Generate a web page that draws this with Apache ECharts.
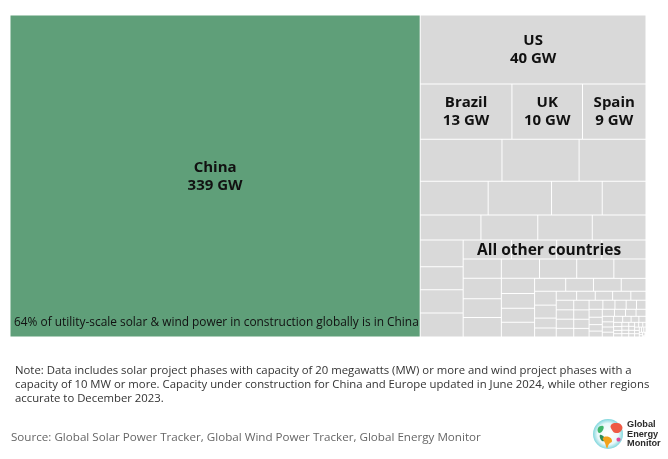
<!DOCTYPE html>
<html><head><meta charset="utf-8">
<style>html,body{margin:0;padding:0;background:#fff}#c{width:668px;height:459px}</style>
<script src="https://cdn.jsdelivr.net/npm/echarts@6/dist/echarts.min.js"></script>
</head><body><div id="c"></div>
<script>
const chinaCell = [339];
const usCell = [40];
const brazilUkSpain = [13,10,9];
const rowA = [8.8,8.3,7.2];
const rowB = [5.9,5.5,4.4,3.8];
const rowC = [3.9,3.65,3.5,3.45];
const colD = [2.95,2.55,2.55,2.65];
const rowE = [2.35,2.2,2.2,2.15];
const rowF = [1.9,1.9,1.85,1.85,1.6];
const colG = [2.0,1.85,1.9];
const colH = [1.3,1.25,1.2,1.25];
const rowI = [1.03,.92,.92,.82];
const colJ = [.77,.72,.55,.5];
const rowK = [.47,.43,.4,.42,.35];
const colL = [.43,.42,.41,.39];
const colM = [.38,.37,.36,.34];
const rowN = [.32,.28,.26,.24,.22];
const colO = [.27,.25,.22,.2];
const rowP = [.22,.2,.19,.18];
const colQ = [.16,.15,.15,.14];
const rowR = [.14,.13,.12,.11];
const colS = [.09,.08,.07,.07];
const tail = [.07,.07,.06,.06,.06,.06,.05,.05,.05,.05,.04,.04,.04,.04,.03,.03,.03,.02,.02,.02,.01,.01];

const headline = '64% of utility-scale solar & wind power in construction globally is in China';
const othersLabel = 'All other countries';
const noteLines = [
 'Note: Data includes solar project phases with capacity of 20 megawatts (MW) or more and wind project phases with a',
 'capacity of 10 MW or more. Capacity under construction for China and Europe updated in June 2024, while other regions',
 'accurate to December 2023.'
];
const sourceText = 'Source: Global Solar Power Tracker, Global Wind Power Tracker, Global Energy Monitor';
const logoLines = ['Global','Energy','Monitor'];

const FONT = '"Open Sans", sans-serif';
const strips = [
  ['left',chinaCell,['China']],['top',usCell,['US']],['top',brazilUkSpain,['Brazil','UK','Spain']],
  ['top',rowA],['top',rowB],['top',rowC],['left',colD],['top',rowE],['top',rowF],
  ['left',colG],['left',colH],['top',rowI],['left',colJ],['top',rowK],['left',colL],['left',colM],
  ['top',rowN],['left',colO],['top',rowP],['left',colQ],['top',rowR],['left',colS],['rest',tail]
];
const sum = a => a.reduce((s,v)=>s+v,0);
let remaining = sum(strips.map(s=>sum(s[1])));
let box = {x:10,y:15,w:636,h:322};
const series = [];
const addSeries = (r,values,names,ratio)=>series.push({
  type:'treemap', left:r.x+.5, top:r.y+.5, width:r.w-1, height:r.h-1,
  roam:false, nodeClick:false, breadcrumb:{show:false},
  visibleMin:0, sort:false, silent:true, squareRatio:ratio,
  levels:[{itemStyle:{gapWidth:1,borderWidth:0,borderColor:'#fff'}}],
  label:{show:!!names,position:'inside',align:'center',verticalAlign:'middle',offset:[0,.5],
    fontFamily:FONT,fontWeight:700,fontSize:15,lineHeight:18,color:'#111',
    formatter:p=>p.name+'\n'+p.value+' GW'},
  data:values.map((v,i)=>({
    name:names?names[i]:'Other', value:v,
    itemStyle:{color:names&&names[i]==='China'?'#5F9F79':'#D9D9D9'}
  }))
});
strips.forEach(([side,values,names])=>{
  const total = sum(values);
  const share = total/remaining;
  if (side==='left'){
    const w = box.w*share;
    let y = box.y;
    values.forEach((v,i)=>{
      const h = box.h*v/total;
      addSeries({x:box.x,y,w,h},[v],names?[names[i]]:null,0.3);
      y += h;
    });
    box = {x:box.x+w,y:box.y,w:box.w-w,h:box.h};
  } else if (side==='top'){
    const h = box.h*share;
    addSeries({x:box.x,y:box.y,w:box.w,h},values,names,0.3);
    box = {x:box.x,y:box.y+h,w:box.w,h:box.h-h};
  } else {
    addSeries(box,values,names,1.618);
  }
  remaining -= total;
});

const blob = (pts,fill)=>({type:'polygon',silent:true,z:100,shape:{points:pts,smooth:0.5},style:{fill}});
const txt = (left,top,text,font,fill)=>({type:'text',silent:true,z:100,left,top,style:{text,font,fill}});
const chart = echarts.init(document.getElementById('c'),null,{renderer:'canvas'});
chart.setOption({
  animation:false,
  backgroundColor:'#fff',
  series,
  graphic:[
    txt(14,317,headline,'11.9px '+FONT,'#111'),
    txt(477,242.5,othersLabel,'700 15.5px '+FONT,'#111'),
    ...noteLines.map((t,i)=>txt(15,365.5+i*13.7,t,'11.33px '+FONT,'#333')),
    txt(11,431.5,sourceText,'11.63px '+FONT,'#666'),
    {type:'circle',silent:true,z:100,shape:{cx:608,cy:434,r:15},style:{fill:new echarts.graphic.RadialGradient(.5,.5,.5,[{offset:0,color:'#ffffff'},{offset:.7,color:'#eaf8fa'},{offset:1,color:'#7fd6dc'}])}},
    blob([[611,425],[617,423],[622,426],[621,431],[616,433],[612,430]],'#EE5A45'),
    blob([[598,428],[603,426],[603,430],[599,433]],'#3FB56B'),
    blob([[600,435],[604,437],[604,441],[601,440]],'#2E8B57'),
    blob([[603,438],[609,437],[612,441],[609,444],[607,448],[605,443]],'#F2A21B'),
    blob([[617,438],[620,438],[620,441],[617,441]],'#E0489A'),
    ...logoLines.map((t,i)=>txt(627,420+i*9.7,t,'700 9.2px "Liberation Sans", Arial, sans-serif','#2b2b2b'))
  ]
});
</script></body></html>
